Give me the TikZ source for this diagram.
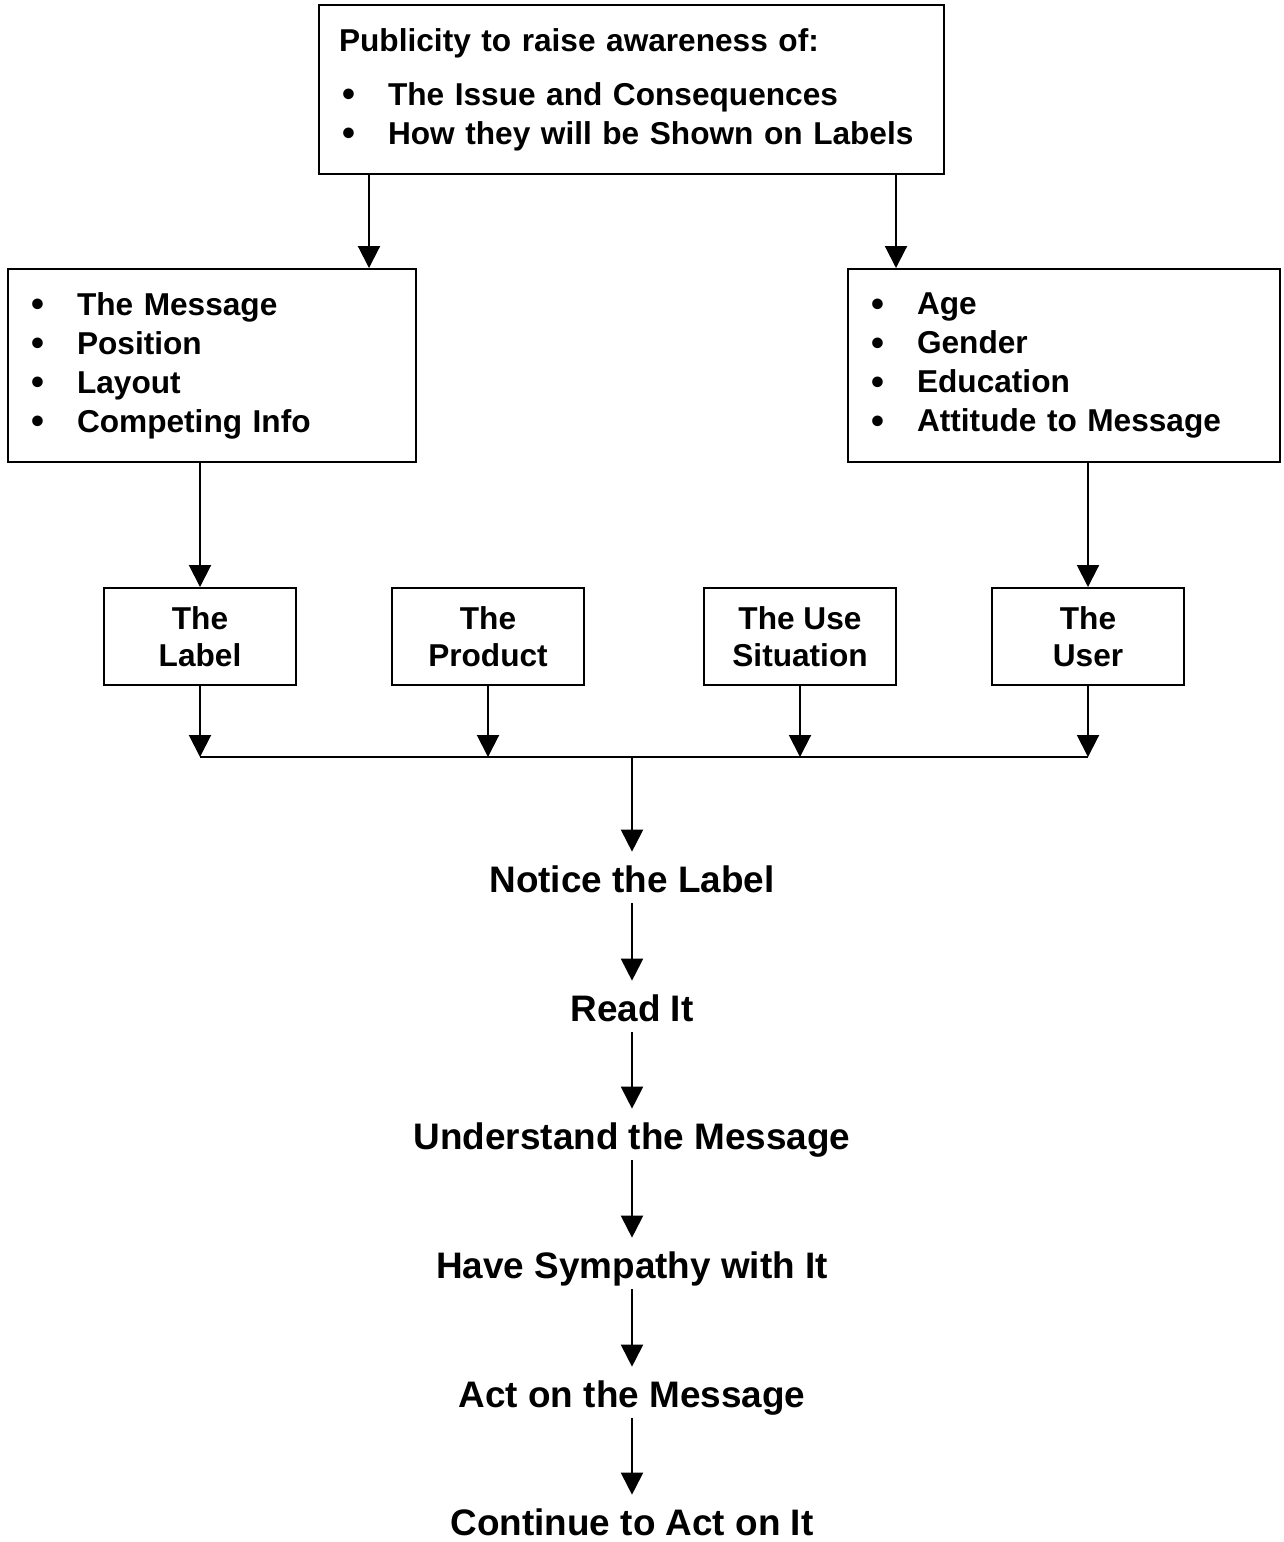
\documentclass[tikz,border=0pt]{standalone}
\usepackage{fontspec}
\setmainfont{Liberation Sans}
\usepackage{tikz}
\usetikzlibrary{arrows.meta}
\newcommand{\Blt}[1]{\makebox[0.98cm][l]{\hspace{0.06cm}\raisebox{-1pt}{\fontsize{21}{21}\selectfont\textbullet}}#1}

\begin{document}
\begin{tikzpicture}[
x=0.02cm, y=-0.02cm,
MyBox/.style={draw=black,line width=0.04cm,inner xsep=0.4cm,inner ysep=0pt,align=left,font=\fontsize{18}{22.2}\selectfont\bfseries},
SmallBox/.style={draw=black,line width=0.04cm,minimum width=3.84cm,minimum height=1.94cm,inner sep=0pt,align=center,font=\fontsize{18}{21}\selectfont\bfseries},
Steps/.style={minimum height=1.02cm,inner sep=0pt,text height=0.59cm,text depth=0cm,font=\fontsize{21}{25}\selectfont\bfseries},
Arrow/.style={-{Triangle[length=0.44cm,width=0.44cm]},line width=0.04cm}
]
%\draw[gray,step=100,dotted] (0,0) grid (1284,1542);
\useasboundingbox (0,0) rectangle (1284,1542);

\node[MyBox,text width=11.7cm,minimum height=3.38cm] (pub) at (631.5,89.5) {Publicity to raise awareness of:\\[0.3cm]
\Blt{The Issue and Consequences}\\
\Blt{How they will be Shown on Labels}};

\node[MyBox,text width=7.36cm,minimum height=3.86cm] (msg) at (212,365.5) {\Blt{The Message}\\
\Blt{Position}\\
\Blt{Layout}\\
\Blt{Competing Info}};

\node[MyBox,text width=7.84cm,minimum height=3.86cm] (usr) at (1064,365.5) {\Blt{Age}\\
\Blt{Gender}\\
\Blt{Education}\\
\Blt{Attitude to Message}};

\node[SmallBox] (label) at (200,636.5) {The\\Label};
\node[SmallBox] (product) at (488,636.5) {The\\Product};
\node[SmallBox] (situation) at (800,636.5) {The Use\\Situation};
\node[SmallBox] (user) at (1088,636.5) {The\\User};

\coordinate (bus) at (632,757);

\node[Steps] (notice) at (632,877.5) {Notice the Label};
\node[Steps] (read) at (632,1006.5) {Read It};
\node[Steps] (understand) at (632,1134.5) {Understand the Message};
\node[Steps] (sympathy) at (632,1263.5) {Have Sympathy with It};
\node[Steps] (act) at (632,1392.5) {Act on the Message};
\node[Steps] (continue) at (632,1520.5) {Continue to Act on It};

\draw[Arrow] (369,0 |- pub.south) -- (369,0 |- msg.north);
\draw[Arrow] (896,0 |- pub.south) -- (896,0 |- usr.north);
\draw[Arrow] (label.north |- msg.south) -- (label.north);
\draw[Arrow] (user.north |- usr.south) -- (user.north);

\foreach \b in {label,product,situation,user}
  \draw[Arrow] (\b.south) -- (\b.south |- bus);
\draw[line width=0.04cm] (label.south |- bus) -- (user.south |- bus);

\draw[Arrow] (bus) -- (notice);
\draw[Arrow] (notice) -- (read);
\draw[Arrow] (read) -- (understand);
\draw[Arrow] (understand) -- (sympathy);
\draw[Arrow] (sympathy) -- (act);
\draw[Arrow] (act) -- (continue);

\end{tikzpicture}
\end{document}
